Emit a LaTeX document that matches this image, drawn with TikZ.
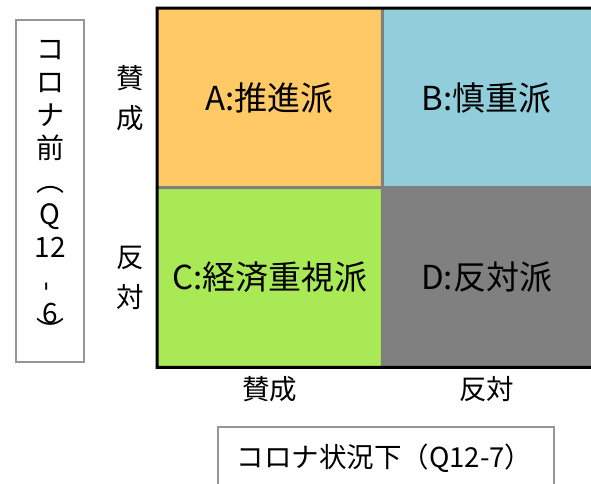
\documentclass[tikz,border=0pt]{standalone}
\usepackage{fontspec}
\setmainfont{Noto Sans CJK JP}
\usepackage{tikz}
\usetikzlibrary{matrix,positioning}
\definecolor{proorange}{RGB}{255,202,102}
\definecolor{carefulblue}{RGB}{146,205,220}
\definecolor{econgreen}{RGB}{169,233,86}
\definecolor{antigray}{RGB}{128,128,128}
\definecolor{boxgray}{RGB}{150,150,150}

\begin{document}
\begin{tikzpicture}[x=1pt,y=-1pt,
  quad/.style={minimum width=225pt,minimum height=179.5pt,inner sep=0pt,font=\fontsize{33}{33}\selectfont},
  axis/.style={font=\fontsize{27.5}{40}\selectfont,align=center,inner sep=0pt},
  frame/.style={draw=boxgray,line width=1.5pt}]
  \useasboundingbox (0,0) rectangle (591,483);
  \matrix (m) [matrix of nodes, row sep=0pt, column sep=0pt, inner sep=0pt, anchor=north west, nodes={quad}] at (157,8)
  {
|[fill=proorange]| A:推進派 & |[fill=carefulblue,minimum width=209pt]| B:慎重派 \\
|[fill=econgreen]| C:経済重視派 & |[fill=antigray,minimum width=209pt]| D:反対派 \\
};
  \draw[antigray,line width=3pt] (m-1-1.north east) -- (m-2-1.south east) (m-2-1.north west) -- (m-2-2.north east);
  \draw[black,line width=3pt] (m-1-2.north east) -- (m-1-1.north west) -- (m-2-1.south west) -- (m-2-2.south east);
  \node[axis,left=13pt of m-1-1] (ypro) {賛\\成};
  \node[axis,left=13pt of m-2-1] (yanti) {反\\対};
  \node[axis,below=9pt of m-2-1] (xpro) {賛成};
  \node[axis,below=9pt of m-2-2] (xanti) {反対};
  \node[frame,minimum width=68pt,minimum height=342pt,align=center,font=\fontsize{28}{33}\selectfont] (before) at (50,191) {コ\\ロ\\ナ\\前\\︵\\Q\\12\\\rotatebox[origin=c]{90}{-}\\6\\[-15pt]︶};
  \node[frame,anchor=north west,text width=298pt,inner xsep=19pt,minimum height=62pt,align=left,font=\fontsize{27.5}{30}\selectfont] (during) at (217,426) {コロナ状況下（Q12-7）};
\end{tikzpicture}
\end{document}
